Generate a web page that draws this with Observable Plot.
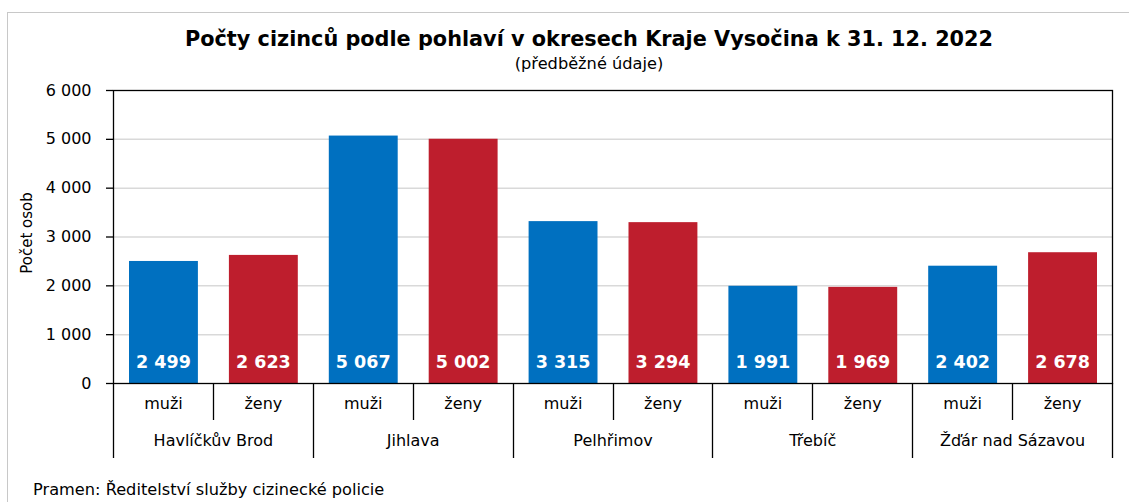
<!DOCTYPE html>
<html><head><meta charset="utf-8">
<script src="https://cdn.jsdelivr.net/npm/d3@7"></script>
<script src="https://cdn.jsdelivr.net/npm/@observablehq/plot@0.6"></script>
<style>
body{margin:0;background:#fff;}
#wrap{position:relative;width:1129px;height:502px;overflow:hidden;font-family:"DejaVu Sans",sans-serif;color:#000;}
#frame{position:absolute;left:7px;top:12px;width:1300px;height:700px;border:1px solid #c8c8c8;box-sizing:border-box;}
#chart{position:absolute;left:0;top:0;}
#title{position:absolute;top:27px;left:0;width:1178px;text-align:center;font-weight:bold;font-size:20.8px;white-space:nowrap;}
#subtitle{position:absolute;top:54px;left:0;width:1178px;text-align:center;font-size:16.2px;}
#ylabel{position:absolute;left:27px;top:233px;transform:translate(-50%,-50%) rotate(-90deg);font-size:15px;white-space:nowrap;}
#source{position:absolute;left:33px;top:480px;font-size:16.2px;white-space:nowrap;}
</style></head>
<body>
<div id="wrap">
  <div id="frame"></div>
  <div id="chart"></div>
  <div id="title"></div>
  <div id="subtitle"></div>
  <div id="ylabel"></div>
  <div id="source"></div>
</div>
<script>
const titleText = "Počty cizinců podle pohlaví v okresech Kraje Vysočina k 31. 12. 2022";
const subtitleText = "(předběžné údaje)";
const yLabelText = "Počet osob";
const sourceText = "Pramen: Ředitelství služby cizinecké policie";

const districts = ["Havlíčkův Brod", "Jihlava", "Pelhřimov", "Třebíč", "Žďár nad Sázavou"];
const sexes = ["muži", "ženy"];
const men = [2499, 5067, 3315, 1991, 2402];
const women = [2623, 5002, 3294, 1969, 2678];
const yTicks = [0, 1000, 2000, 3000, 4000, 5000, 6000];
const colors = ["#0070C0", "#BE1E2D"];

document.getElementById("title").textContent = titleText;
document.getElementById("subtitle").textContent = subtitleText;
document.getElementById("ylabel").textContent = yLabelText;
document.getElementById("source").textContent = sourceText;

const rows = [];
districts.forEach((d, i) => {
  rows.push({district: d, sex: sexes[0], key: d + "|" + sexes[0], value: men[i]});
  rows.push({district: d, sex: sexes[1], key: d + "|" + sexes[1], value: women[i]});
});
const keys = rows.map(r => r.key);

const fmt = d3.formatLocale({decimal: ",", thousands: "\u00a0", grouping: [3], currency: ["", ""]}).format(",d");

const W = 1129, H = 502, ML = 113, MR = 17, MT = 90, MB = 119;
const halfBand = (W - ML - MR) / keys.length / 2;

function tableLines(index, scales) {
  const x = scales.x, y = scales.y;
  const bw = typeof x.bandwidth === "function" ? x.bandwidth() : x.bandwidth;
  const y0 = y(0);
  const g = d3.create("svg:g").attr("stroke", "#000").attr("stroke-width", 1.3);
  const positions = keys.map(k => x(k)).concat([x(keys[keys.length - 1]) + bw]);
  positions.forEach((px, i) => {
    const full = i % 2 === 0;
    const xx = Math.round(px) + 0.5;
    g.append("line").attr("x1", xx).attr("x2", xx).attr("y1", y0).attr("y2", y0 + (full ? 75 : 37));
  });
  return g.node();
}

const plot = Plot.plot({
  width: W, height: H,
  marginLeft: ML, marginRight: MR, marginTop: MT, marginBottom: MB,
  style: {fontFamily: "DejaVu Sans", fontSize: "16px", color: "#000", background: "transparent", overflow: "visible"},
  x: {type: "band", domain: keys, padding: 0, round: false, axis: null},
  y: {domain: [0, 6000], axis: null},
  marks: [
    Plot.gridY(yTicks.filter(t => t > 0 && t < 6000), {stroke: "#d9d9d9", strokeOpacity: 1, strokeWidth: 1.5}),
    Plot.barY(rows, {x: "key", y: "value", fill: d => colors[sexes.indexOf(d.sex)], insetLeft: 16, insetRight: 15}),
    Plot.text(rows, {x: "key", y: 0, text: d => fmt(d.value), dy: -21, fill: "white", fontWeight: "bold", fontSize: 17.5}),
    Plot.frame({stroke: "#000", strokeWidth: 1.3}),
    Plot.axisY({ticks: yTicks, tickFormat: fmt, tickSize: 7, tickPadding: 15, fontSize: 16, label: null, strokeWidth: 1.3}),
    tableLines,
    Plot.text(rows, {x: "key", text: "sex", frameAnchor: "bottom", dy: 25, fontSize: 16}),
    Plot.text(districts, {x: d => d + "|" + sexes[0], text: d => d, frameAnchor: "bottom", dy: 62, dx: halfBand, fontSize: 16})
  ]
});
document.getElementById("chart").appendChild(plot);
</script>
</body></html>
